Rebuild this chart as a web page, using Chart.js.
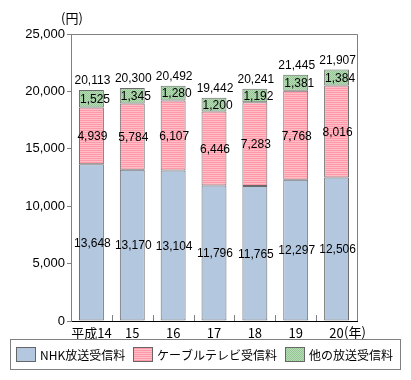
<!DOCTYPE html>
<html><head><meta charset="utf-8">
<script src="https://cdn.jsdelivr.net/npm/chart.js@4"></script>
<style>html,body{margin:0;padding:0;background:#fff}#wrap{width:411px;height:380px}</style>
</head><body><div id="wrap"><canvas id="c" width="411" height="380"></canvas></div>
<script>
const categories = ['平成14','15','16','17','18','19','20'];
const nhkFees = [13648, 13170, 13104, 11796, 11765, 12297, 12506];
const cableFees = [4939, 5784, 6107, 6446, 7283, 7768, 8016];
const otherFees = [1525, 1345, 1280, 1200, 1192, 1381, 1384];
const totals = [20113, 20300, 20492, 19442, 20241, 21445, 21907];
const seriesNames = ['NHK放送受信料','ケーブルテレビ受信料','他の放送受信料'];
const yTicks = [0, 5000, 10000, 15000, 20000, 25000];
const yUnit = '(円)';
const xUnit = '(年)';

const canvas = document.getElementById('c');
const ctx = canvas.getContext('2d');
function makePattern(w, h, draw) {
  const oc = document.createElement('canvas'); oc.width = w; oc.height = h;
  draw(oc.getContext('2d'));
  return ctx.createPattern(oc, 'repeat');
}
const pinkPat = makePattern(4, 2, g => {
  g.fillStyle = '#ff99a9'; g.fillRect(0, 0, 4, 2);
  g.fillStyle = '#ffbdc6'; g.fillRect(0, 1, 4, 1);
});
const greenPat = makePattern(2, 2, g => {
  g.fillStyle = '#94c694'; g.fillRect(0, 0, 2, 2);
  g.fillStyle = '#b8dbb8'; g.fillRect(1, 0, 1, 1); g.fillRect(0, 1, 1, 1);
});
const blueFill = '#b3c7df';
const fmt = v => v.toLocaleString('en-US');
const numFont = '12px "Liberation Sans", Arial, sans-serif';
const jpFont = '12px "Noto Sans CJK JP", "Liberation Sans", sans-serif';

const decor = {
  id: 'decor',
  afterDatasetsDraw(chart) {
    const c = chart.ctx, a = chart.chartArea;
    const xs = chart.scales.x;
    c.save();
    c.strokeStyle = '#808080'; c.lineWidth = 1;
    c.beginPath();
    c.moveTo(a.left, Math.round(a.top) + 0.5); c.lineTo(Math.round(a.right) + 0.5, Math.round(a.top) + 0.5);
    c.lineTo(Math.round(a.right) + 0.5, a.bottom);
    c.stroke();
    c.beginPath();
    for (let i = 0; i < categories.length - 1; i++) {
      const x = Math.round((xs.getPixelForValue(i) + xs.getPixelForValue(i + 1)) / 2) + 0.5;
      c.moveTo(x, a.bottom); c.lineTo(x, a.bottom - 6);
    }
    c.stroke();
    c.fillStyle = '#000'; c.font = numFont;
    chart.data.datasets.forEach((ds, di) => {
      const meta = chart.getDatasetMeta(di);
      meta.data.forEach((el, i) => {
        const y = (el.y + el.base) / 2 + 1;
        c.textBaseline = 'middle';
        if (di === 2) {
          c.textAlign = 'left';
          c.fillText(fmt(ds.data[i]), el.x - el.width / 2 + 1, y);
        } else {
          c.textAlign = 'center';
          c.fillText(fmt(ds.data[i]), el.x + 1, y);
        }
      });
    });
    const topMeta = chart.getDatasetMeta(2);
    topMeta.data.forEach((el, i) => {
      c.textAlign = 'center'; c.textBaseline = 'bottom';
      c.fillText(fmt(totals[i]), el.x + 1, el.y - 3);
    });
    c.font = '13px "Noto Sans CJK JP", sans-serif';
    c.textAlign = 'center'; c.textBaseline = 'middle';
    c.fillText(yUnit, 72, 18);
    c.textAlign = 'left';
    c.fillText(xUnit, 344, 332);
    c.strokeStyle = '#808080';
    c.strokeRect(10.5, 339.5, 390, 30);
    const sx = [16, 133, 285];
    const fills = [blueFill, pinkPat, greenPat];
    chart.data.datasets.forEach((ds, di) => {
      c.fillStyle = fills[di];
      c.fillRect(sx[di], 347, 20, 15);
      c.strokeStyle = '#666';
      c.strokeRect(sx[di] + 0.5, 347.5, 19, 14);
      c.fillStyle = '#000'; c.font = jpFont;
      c.textAlign = 'left'; c.textBaseline = 'middle';
      c.fillText(ds.label, sx[di] + 24, 355);
    });
    c.restore();
  }
};

new Chart(ctx, {
  type: 'bar',
  data: {
    labels: categories,
    datasets: [
      { label: seriesNames[0], data: nhkFees, backgroundColor: blueFill },
      { label: seriesNames[1], data: cableFees, backgroundColor: pinkPat },
      { label: seriesNames[2], data: otherFees, backgroundColor: greenPat }
    ].map(d => Object.assign(d, {
      borderColor: '#6a6a6a', borderWidth: 1, borderSkipped: false,
      categoryPercentage: 1, barPercentage: 0.61
    }))
  },
  options: {
    responsive: false, animation: false, devicePixelRatio: 1,
    layout: { padding: { left: 0, top: 34, right: 54, bottom: 39 } },
    plugins: { legend: { display: false }, tooltip: { enabled: false } },
    scales: {
      x: {
        stacked: true,
        grid: { display: false, drawTicks: false },
        border: { color: '#000', width: 1 },
        ticks: { color: '#000', padding: 4, maxRotation: 0, autoSkip: false,
          font: { size: 13, family: '"Noto Sans CJK JP", "Liberation Sans", sans-serif' } },
        afterFit: s => { s.height = 20; }
      },
      y: {
        stacked: true, min: 0, max: 25000,
        afterBuildTicks: s => { s.ticks = yTicks.map(v => ({ value: v })); },
        grid: { drawOnChartArea: false, tickLength: 4, color: '#808080' },
        border: { color: '#808080', width: 1 },
        ticks: { color: '#000', padding: 2, callback: v => fmt(v),
          font: { size: 13, family: '"Liberation Sans", Arial, sans-serif' } },
        afterFit: s => { s.width = 71; }
      }
    }
  },
  plugins: [decor]
});
</script></body></html>
